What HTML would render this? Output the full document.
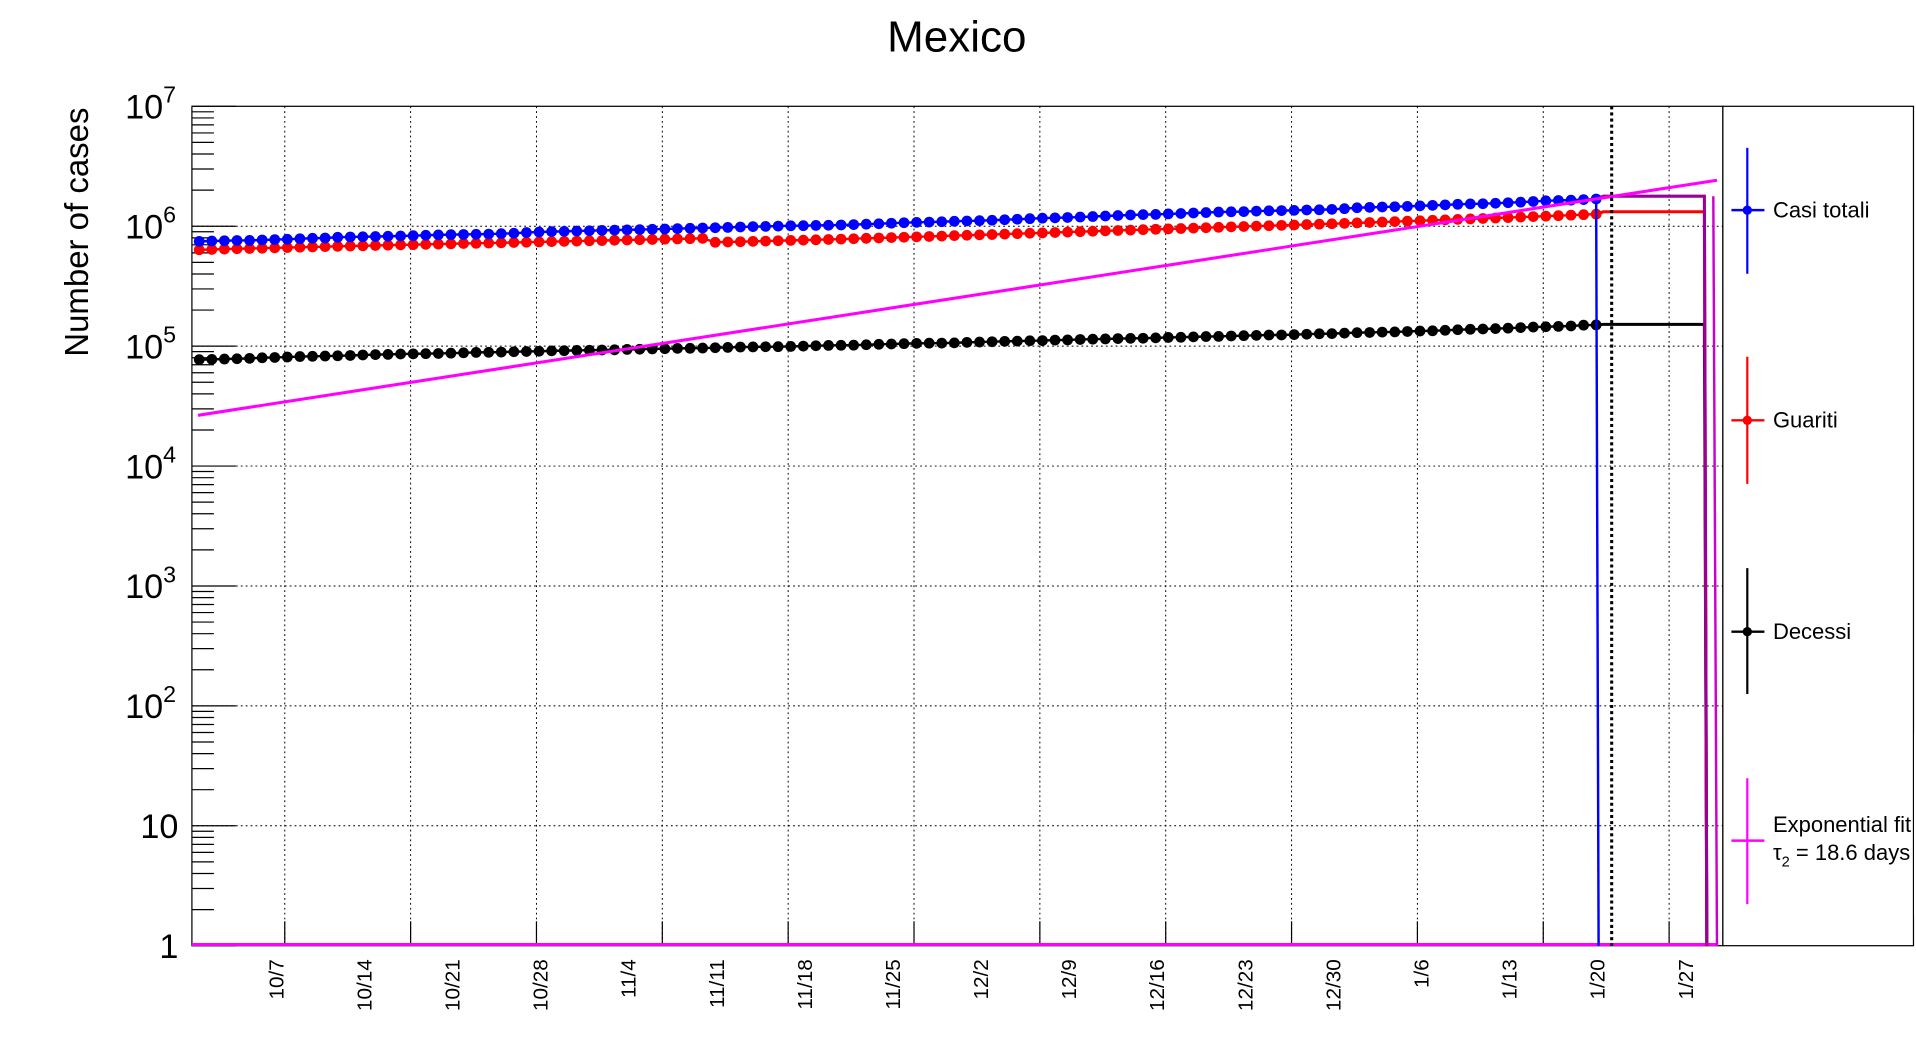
<!DOCTYPE html>
<html><head><meta charset="utf-8"><style>
html,body{margin:0;padding:0;background:#fff;}
svg{display:block;font-family:"Liberation Sans",Arial,sans-serif;}
</style></head><body>
<svg id="chart" width="1916" height="1052" viewBox="0 0 1568 861" xmlns="http://www.w3.org/2000/svg">
<text x="783" y="42" font-size="36" text-anchor="middle">Mexico</text>
<text transform="translate(72,190) rotate(-90)" font-size="27" text-anchor="middle">Number of cases</text>
<g id="grid"></g>
<g id="axes"></g>
<g id="marks"></g>
<g id="legend"></g>
</svg>
<script>
const dateLabels=["10/7","10/14","10/21","10/28","11/4","11/11","11/18","11/25","12/2","12/9","12/16","12/23","12/30","1/6","1/13","1/20","1/27"];
const labelDayIndex=[6,13,20,27,34,41,48,55,62,69,76,83,90,97,104,111,118];
const casiTotali=[748,753,757,761,762,768,774,779,787,794,798,809,814,817,821,825,829,834,841,847,851,854,857,860,867,874,886,895,902,906,912,
918,924,929,933,938,943,949,955,961,967,972,978,986,993,997,1003,1009,1011,1016,1019,1025,1032,1041,1049,1060,1070,1078,1083,1090,1100,
1107,1113,1122,1133,1144,1156,1168,1175,1183,1193,1205,1217,1229,1241,1250,1255,1267,1277,1290,1301,1313,1320,1325,1338,1345,1350,1356,1367,1372,1383,1401,
1426,1437,1448,1455,1466,1479,1493,1508,1524,1535,1541,1556,1571,1588,1609,1630,1641,1650,1668,1688];
const guariti=[636,640,645,649,652,656,660,664,668,672,676,680,684,687,691,695,699,702,706,710,714,718,721,724,728,732,736,740,744,748,752,
756,760,764,768,772,776,780,784,788,792,735,739,743,748,752,757,762,766,771,776,781,787,793,798,804,810,816,822,828,835,
841,847,853,860,867,874,880,887,894,901,908,915,922,929,936,943,950,957,965,972,980,988,996,1003,1010,1017,1025,1033,1041,1049,1057,
1066,1075,1084,1093,1102,1111,1121,1131,1141,1151,1161,1171,1181,1192,1203,1214,1225,1237,1249,1261];
const decessi=[77.2,77.6,78.1,78.5,79.1,80.0,80.5,81.1,81.9,82.3,82.7,83.1,83.6,84.4,85.0,85.3,86.0,86.3,86.6,86.9,87.4,88.0,88.7,88.9,89.2,89.8,90.3,90.7,91.3,91.7,92.1,
92.5,92.9,93.2,93.9,94.3,94.8,95.2,95.8,96.0,96.4,97.0,97.6,98.3,98.5,98.9,99.0,99.5,100.1,100.8,101.4,101.7,101.9,102.7,103.6,104.2,104.9,105.5,105.9,106.0,106.5,
107.6,108.2,108.9,109.7,110.1,110.9,111.3,112.3,112.7,113.7,114.3,114.9,115.6,116.1,116.5,117.2,118.2,118.6,119.5,120.3,120.5,121.6,122.3,123.1,123.8,123.9,124.8,125.8,126.8,127.2,128.4,
129.6,130.1,131.0,131.4,132.6,133.7,134.3,135.6,137.0,138.2,139.0,140.0,141.2,142.8,144.3,145.1,146.1,147.3,149.6,150.3];
const tailLevels=[1780,1320,152];   // flat continuation (thousands): purple, red, black
const tailEndDay=[119.6,119.6,119.6];
const fitStartValue=26.5;  // thousands at day -0.1
const fitEndValue=2420;    // thousands at day 120.6
const fitDays=[-0.1,120.6];
const yDecades=[0,1,2,3,4,5,6,7];

const NS="http://www.w3.org/2000/svg";
const X0=157,X1=1410,Y0=87,Y1=774;
function xs(d){return 163+10.3*d;}
function ys(v){return Y1-98.14*Math.log10(v);}
function mk(tag,attrs,parent){const e=document.createElementNS(NS,tag);for(const k in attrs)e.setAttribute(k,attrs[k]);parent.appendChild(e);return e;}
const grid=document.getElementById('grid'),axes=document.getElementById('axes'),marks=document.getElementById('marks'),legend=document.getElementById('legend');

for(let gx=233;gx<X1;gx+=103){
  const l=mk('line',{x1:gx,x2:gx,y1:Y0,y2:Y1,stroke:'#000','stroke-width':0.8,'stroke-dasharray':'1.5,2.5'},grid);
  
  
  mk('line',{x1:gx,x2:gx,y1:Y1-20,y2:Y1,stroke:'#000','stroke-width':1},axes);
}
yDecades.forEach(p=>{
  const y=ys(Math.pow(10,p));
  if(p>0&&p<7){const l=mk('line',{x1:X0,x2:X1,y1:y,y2:y,stroke:'#000','stroke-width':0.8,'stroke-dasharray':'1.5,2.5'},grid);
  
  }
  mk('line',{x1:X0,x2:X0+36,y1:y,y2:y,stroke:'#000','stroke-width':1},axes);
  if(p<7)for(let m=2;m<10;m++){const yy=ys(m*Math.pow(10,p));mk('line',{x1:X0,x2:X0+18,y1:yy,y2:yy,stroke:'#000','stroke-width':1},axes);}
  const t=mk('text',{x:p<=1?146:144,y:y+10,'font-size':28,'text-anchor':'end'},axes);
  
  
  if(p===0)t.textContent='1';else if(p===1)t.textContent='10';else{t.textContent='10';const s=mk('tspan',{dy:-13,'font-size':19},t);s.textContent=String(p);}
});
const fr=mk('rect',{x:X0,y:Y0,width:X1-X0,height:Y1-Y0,fill:'none',stroke:'#000','stroke-width':1},axes);


dateLabels.forEach((lab,i)=>{
  const x=xs(labelDayIndex[i])+7;
  const t=mk('text',{transform:`translate(${x},785) rotate(-90)`,'font-size':17,'text-anchor':'end'},axes);
  
  
  t.textContent=lab;
});

const bl=mk('line',{x1:X0,x2:1406,y1:Y1-1,y2:Y1-1,stroke:'#ff00ff','stroke-width':2.5},marks);



function series(data,color,name,tail,tailColor,tailEnd){
  const g=mk('g',{},marks);
  
  
  const last=data.length-1;
  let d='';data.forEach((v,i)=>{d+=(i?'L':'M')+xs(i)+','+ys(v*1000);});
  mk('path',{d,fill:'none',stroke:color,'stroke-width':2},g);
  const xl=xs(last),yl=ys(data[last]*1000),yt=ys(tail*1000),xe=xs(tailEnd);
  mk('path',{d:`M${xl},${yl}L${xl+6},${yt}L${xe},${yt}L${xe+2},${Y1}`,fill:'none',stroke:tailColor,'stroke-width':2.5},g);
  data.forEach((v,i)=>{const c=mk('circle',{cx:xs(i),cy:ys(v*1000),r:4.4,fill:color},g);
    
    });
  return g;
}
series(decessi,'#000','decessi-series',tailLevels[2],'#000',tailEndDay[2]);
series(guariti,'#ff0000','guariti-series',tailLevels[1],'#ff0000',tailEndDay[1]);
series(casiTotali,'#0000ff','casi-totali-series',tailLevels[0],'#990099',tailEndDay[0]);
const bd=mk('line',{x1:xs(casiTotali.length-1),x2:xs(casiTotali.length-1)+2,y1:ys(casiTotali[casiTotali.length-1]*1000),y2:Y1,stroke:'#0000ff','stroke-width':2},marks);


const fl=mk('line',{x1:xs(fitDays[0]),y1:ys(fitStartValue*1000),x2:xs(fitDays[1]),y2:ys(fitEndValue*1000),stroke:'#ff00ff','stroke-width':2.5},marks);


const fd=mk('line',{x1:xs(fitDays[1])-3,x2:xs(fitDays[1]),y1:ys(tailLevels[0]*1000),y2:Y1,stroke:'#cc00cc','stroke-width':2},marks);


const vl=mk('line',{x1:1319,x2:1319,y1:Y0,y2:Y1,stroke:'#000','stroke-width':2.5,'stroke-dasharray':'2.5,2.5'},marks);



const lb=mk('rect',{x:1410,y:87,width:156,height:687,fill:'#fff',stroke:'#000','stroke-width':1},legend);


const entries=[["Casi totali",'#0000ff',172,121,224],["Guariti",'#ff0000',344,292,396],["Decessi",'#000',517,465,568],["Exponential fit",'#ff00ff',688,637,740]];
entries.forEach((e,i)=>{
  const g=mk('g',{},legend);
  
  
  mk('line',{x1:1430,x2:1430,y1:e[3],y2:e[4],stroke:e[1],'stroke-width':1.8},g);
  mk('line',{x1:1417,x2:1444,y1:e[2],y2:e[2],stroke:e[1],'stroke-width':2},g);
  if(i<3)mk('circle',{cx:1430,cy:e[2],r:3.8,fill:e[1]},g);
  const t=mk('text',{x:1451,y:i<3?e[2]+6:e[2]-7,'font-size':18},g);
  t.textContent=e[0];
  if(i===3){const t2=mk('text',{x:1451,y:e[2]+16,'font-size':18},g);
    t2.textContent='τ';const s=mk('tspan',{dy:5,'font-size':12},t2);s.textContent='2';const s2=mk('tspan',{dy:-5},t2);s2.textContent=' = 18.6 days';}
});
mk('rect',{x:1566.5,y:600,width:10,height:150,fill:'#fff'},legend);
</script>
</body></html>
